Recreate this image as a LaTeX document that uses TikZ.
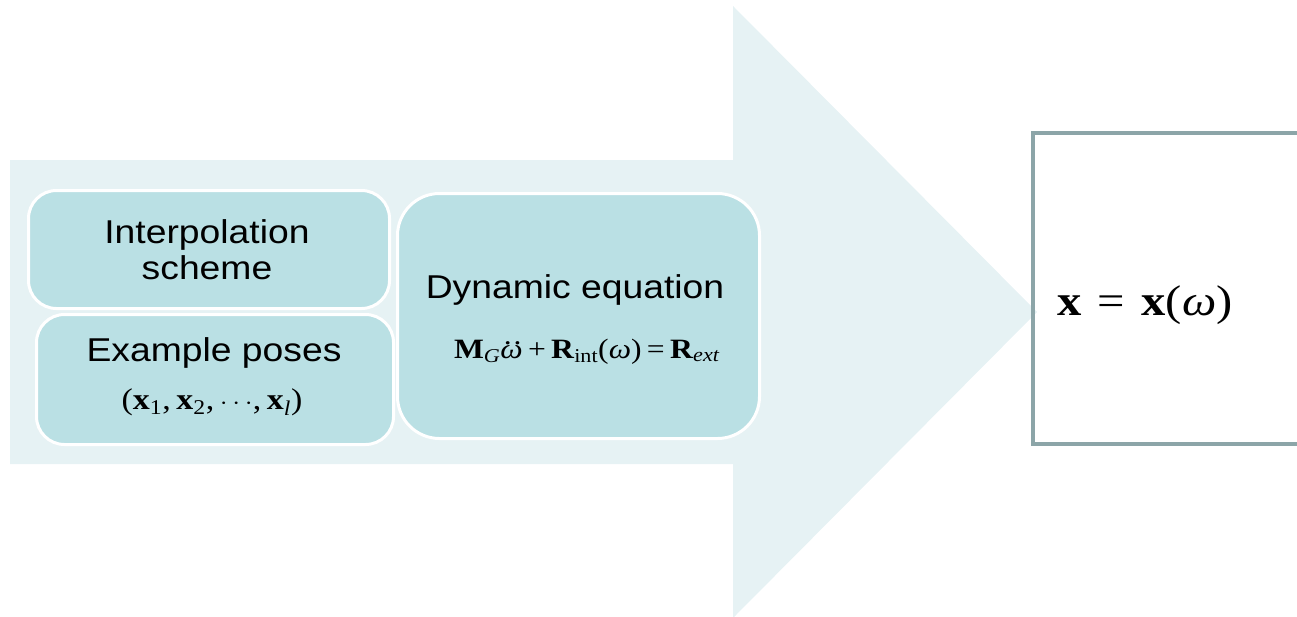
\documentclass[tikz,border=0pt]{standalone}
\usepackage{fontspec}
\usepackage{graphicx}
\setmainfont{Liberation Sans}
\newfontfamily\tms{Liberation Serif}
\definecolor{arrowc}{HTML}{E6F2F4}
\definecolor{boxc}{HTML}{BAE0E4}
\definecolor{framec}{HTML}{8CA5A8}
\newcommand\hs[1]{\scalebox{1.13}[1]{#1}}
\newcommand\bfx{\textbf{x}}
\newcommand\sbs[1]{\textsubscript{#1}}
\newcommand\ddotomega{\ooalign{\textit{ω}\cr\hidewidth\kern0.12em\raisebox{0.5em}{\textit{.\kern0.06em.}}\hidewidth\cr}}
\begin{document}
\begin{tikzpicture}[x=1pt,y=-1pt,
  pill/.style={draw=white, line width=3pt, fill=boxc, rounded corners=#1, inner sep=0pt, anchor=north west},
  sanslbl/.style={font=\fontsize{33}{36}\selectfont, align=center, inner sep=0pt, text=black},
  mathlbl/.style={font=\tms\fontsize{#1}{#1}\selectfont, inner sep=0pt, anchor=base, text=black}]
\useasboundingbox (0,0) rectangle (1297,616);
\clip (0,0) rectangle (1297,616);
% big background arrow
\path[fill=arrowc] (10,160) -- (733,160) -- (733,6) -- (1037,312) -- (733,618) -- (733,464) -- (10,464) -- cycle;
% boxes
\node[pill=28pt, minimum width=361pt, minimum height=118pt] (interp) at (27,189) {};
\node[pill=28pt, minimum width=357pt, minimum height=130pt] (example) at (35,313) {};
\node[pill=42pt, minimum width=362pt, minimum height=245pt] (dyn) at (396,192) {};
\node[draw=framec, line width=4pt, minimum width=300pt, minimum height=311pt, anchor=north west, inner sep=0pt] (result) at (1031,131) {};
% texts
\node[sanslbl] (interpT) at (207,250) {\hs{Interpolation}\\\hs{scheme}};
\node[sanslbl, anchor=base] (exT) at (214,361) {\hs{Example poses}};
\node[mathlbl=30] (exM) at (212,409) {\hs{(\bfx\sbs{1},\,\bfx\sbs{2},\,$\cdots$,\,\bfx\sbs{\textit{l}})}};
\node[sanslbl, anchor=base] (dynT) at (575,298) {\hs{Dynamic equation}};
\node[mathlbl=28] (dynM) at (587,358) {\hs{\textbf{M}\sbs{\textit{G}}\ddotomega\,+\,\textbf{R}\sbs{int}(\textit{ω})\,=\,\textbf{R}\sbs{\textit{ext}}}};
\node[mathlbl=43] (resM) at (1145,315) {\hs{\bfx\,\,=\,\,\bfx(\textit{ω})}};
\end{tikzpicture}
\end{document}
